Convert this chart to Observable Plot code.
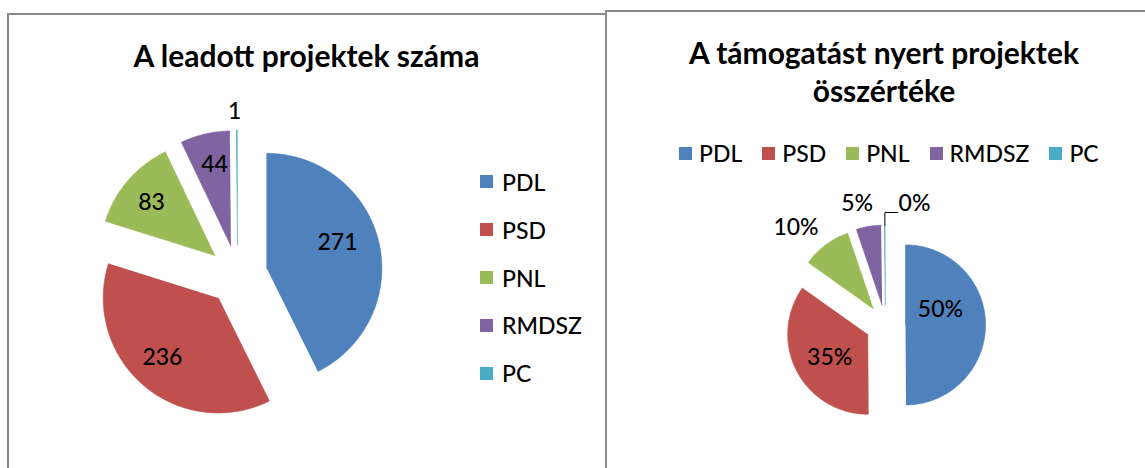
<!DOCTYPE html>
<html><head><meta charset="utf-8">
<script src="https://cdn.jsdelivr.net/npm/d3@7"></script>
<script src="https://cdn.jsdelivr.net/npm/@observablehq/plot@0.6"></script>
<style>
body{margin:0;background:#fff;font-family:Lato,"Open Sans",sans-serif;}
#page{position:relative;width:1145px;height:468px;overflow:hidden;background:#fff;}
.panel{position:absolute;border:2px solid #8a8a8a;border-bottom:none;box-sizing:border-box;}
.title{position:absolute;font-weight:bold;text-align:center;color:#000;white-space:nowrap;}
.item{position:absolute;display:flex;align-items:center;white-space:nowrap;color:#000;font-weight:500;}
.sw{display:inline-block;width:13px;height:13px;}
svg.pie{position:absolute;}
</style></head><body><div id="page"></div>
<script>
// ---- data ----
const parties = ["PDL", "PSD", "PNL", "RMDSZ", "PC"];
const partyColors = ["#4F81BD", "#C0504D", "#9BBB59", "#8064A2", "#4BACC6"];
const submittedTitle = ["A leadott projektek száma"];
const submittedCounts = [271, 236, 83, 44, 1];
const fundedTitle = ["A támogatást nyert projektek", "összértéke"];
const fundedShares = [50, 35, 10, 5, 0.2]; // % of total value (PC ≈ 0%)

// ---- layout ----
const FONT = "Lato, 'Open Sans', sans-serif";
const leftL = {
  panel: {x: 7, y: 13, w: 600, h: 470},
  svg: {x: 9, y: 15, w: 596, h: 453},
  cx: 237.2, cy: 274.7, r: 115, explode: 0.26,
  labels: [[0.913, -4.9], [0.97, 1.9], [0.98, -0.8], [0.98, 1.2], [1.42, -0.8]],
  fontSize: 23,
  title: {cx: 306.5, y: 40, size: 30, lineH: 38},
  legend: {type: "vertical", x: 480, y0: 181.7, step: 47.9, size: 23}
};
const rightL = {
  panel: {x: 605, y: 10, w: 560, h: 470},
  svg: {x: 609, y: 12, w: 536, h: 456},
  cx: 885, cy: 324.5, r: 80, explode: 0.25,
  labels: [[0.711, -15], [0.809, -3], [1.651, -6], [1.556, -3.5], [1.561, 13.8]],
  leader: {rise: 0.156, run: 0.16},
  fontSize: 23,
  title: {cx: 884, y: 37, size: 30, lineH: 38},
  legend: {type: "horizontal", x: 679, y: 153, gap: 20, size: 23}
};

const page = document.getElementById("page");

function addPanel(L, titleLines, values, fmt) {
  const p = document.createElement("div");
  p.className = "panel";
  Object.assign(p.style, {left: L.panel.x + "px", top: L.panel.y + "px", width: L.panel.w + "px", height: L.panel.h + "px"});
  page.appendChild(p);

  // pie
  const arcs = d3.pie().sort(null).value(d => d)(values);
  const total = d3.sum(values);
  const pts = [], labs = [];
  arcs.forEach((a, i) => {
    const m = (a.startAngle + a.endAngle) / 2;
    const ox = L.explode * Math.sin(m), oy = L.explode * Math.cos(m);
    const k = parties[i];
    pts.push({k, x: ox, y: oy});
    const n = Math.max(2, Math.ceil((a.endAngle - a.startAngle) / 0.01));
    for (let j = 0; j <= n; j++) {
      const t = a.startAngle + (a.endAngle - a.startAngle) * j / n;
      pts.push({k, x: ox + Math.sin(t), y: oy + Math.cos(t)});
    }
    const [rho, dAng] = L.labels[i];
    const la = m + dAng * Math.PI / 180;
    labs.push({k, x: rho * Math.sin(la), y: rho * Math.cos(la), text: fmt(values[i], total), m, ox, oy});
  });

  const marks = [
    Plot.line(pts, {x: "x", y: "y", z: "k", fill: "k", stroke: "k", strokeWidth: 0.7, curve: "linear"}),
    Plot.text(labs, {x: "x", y: "y", text: "text", fontSize: L.fontSize, fontWeight: 500, fill: "#000"})
  ];
  if (L.leader) {
    const last = labs[labs.length - 1];
    const sx = (L.explode + 1) * Math.sin(last.m), sy = (L.explode + 1) * Math.cos(last.m);
    const top = sy + L.leader.rise;
    marks.push(Plot.line([{x: sx, y: sy}, {x: sx, y: top}, {x: sx + L.leader.run, y: top}],
      {x: "x", y: "y", stroke: "#000", strokeWidth: 1}));
  }

  const svg = Plot.plot({
    width: L.svg.w, height: L.svg.h,
    marginLeft: L.cx - L.r - L.svg.x,
    marginRight: L.svg.x + L.svg.w - (L.cx + L.r),
    marginTop: L.cy - L.r - L.svg.y,
    marginBottom: L.svg.y + L.svg.h - (L.cy + L.r),
    x: {domain: [-1, 1], axis: null},
    y: {domain: [-1, 1], axis: null},
    color: {domain: parties, range: partyColors},
    style: {background: "transparent", overflow: "visible", fontFamily: FONT},
    marks
  });
  svg.classList.add("pie");
  Object.assign(svg.style, {left: L.svg.x + "px", top: L.svg.y + "px", maxWidth: "none"});
  page.appendChild(svg);

  // title
  titleLines.forEach((t, i) => {
    const d = document.createElement("div");
    d.className = "title";
    d.textContent = t;
    Object.assign(d.style, {left: (L.title.cx - 300) + "px", width: "600px", top: (L.title.y + i * L.title.lineH) + "px",
      fontSize: L.title.size + "px", lineHeight: L.title.size + "px"});
    page.appendChild(d);
  });

  // legend
  const lg = L.legend;
  if (lg.type === "vertical") {
    parties.forEach((k, i) => {
      const it = document.createElement("div");
      it.className = "item";
      Object.assign(it.style, {left: lg.x + "px", top: (lg.y0 + i * lg.step - 15) + "px", height: "30px", fontSize: lg.size + "px"});
      it.innerHTML = `<span class="sw" style="background:${partyColors[i]}"></span><span style="margin-left:9px">${k}</span>`;
      page.appendChild(it);
    });
  } else {
    const row = document.createElement("div");
    Object.assign(row.style, {position: "absolute", left: lg.x + "px", top: (lg.y - 15) + "px", height: "30px",
      display: "flex", alignItems: "center", gap: lg.gap + "px", fontSize: lg.size + "px", fontWeight: 500, whiteSpace: "nowrap"});
    parties.forEach((k, i) => {
      const it = document.createElement("span");
      Object.assign(it.style, {display: "flex", alignItems: "center"});
      it.innerHTML = `<span class="sw" style="background:${partyColors[i]}"></span><span style="margin-left:7px">${k}</span>`;
      row.appendChild(it);
    });
    page.appendChild(row);
  }
}

addPanel(leftL, submittedTitle, submittedCounts, (v) => String(v));
addPanel(rightL, fundedTitle, fundedShares, (v, t) => Math.round(v / t * 100) + "%");
</script></body></html>
